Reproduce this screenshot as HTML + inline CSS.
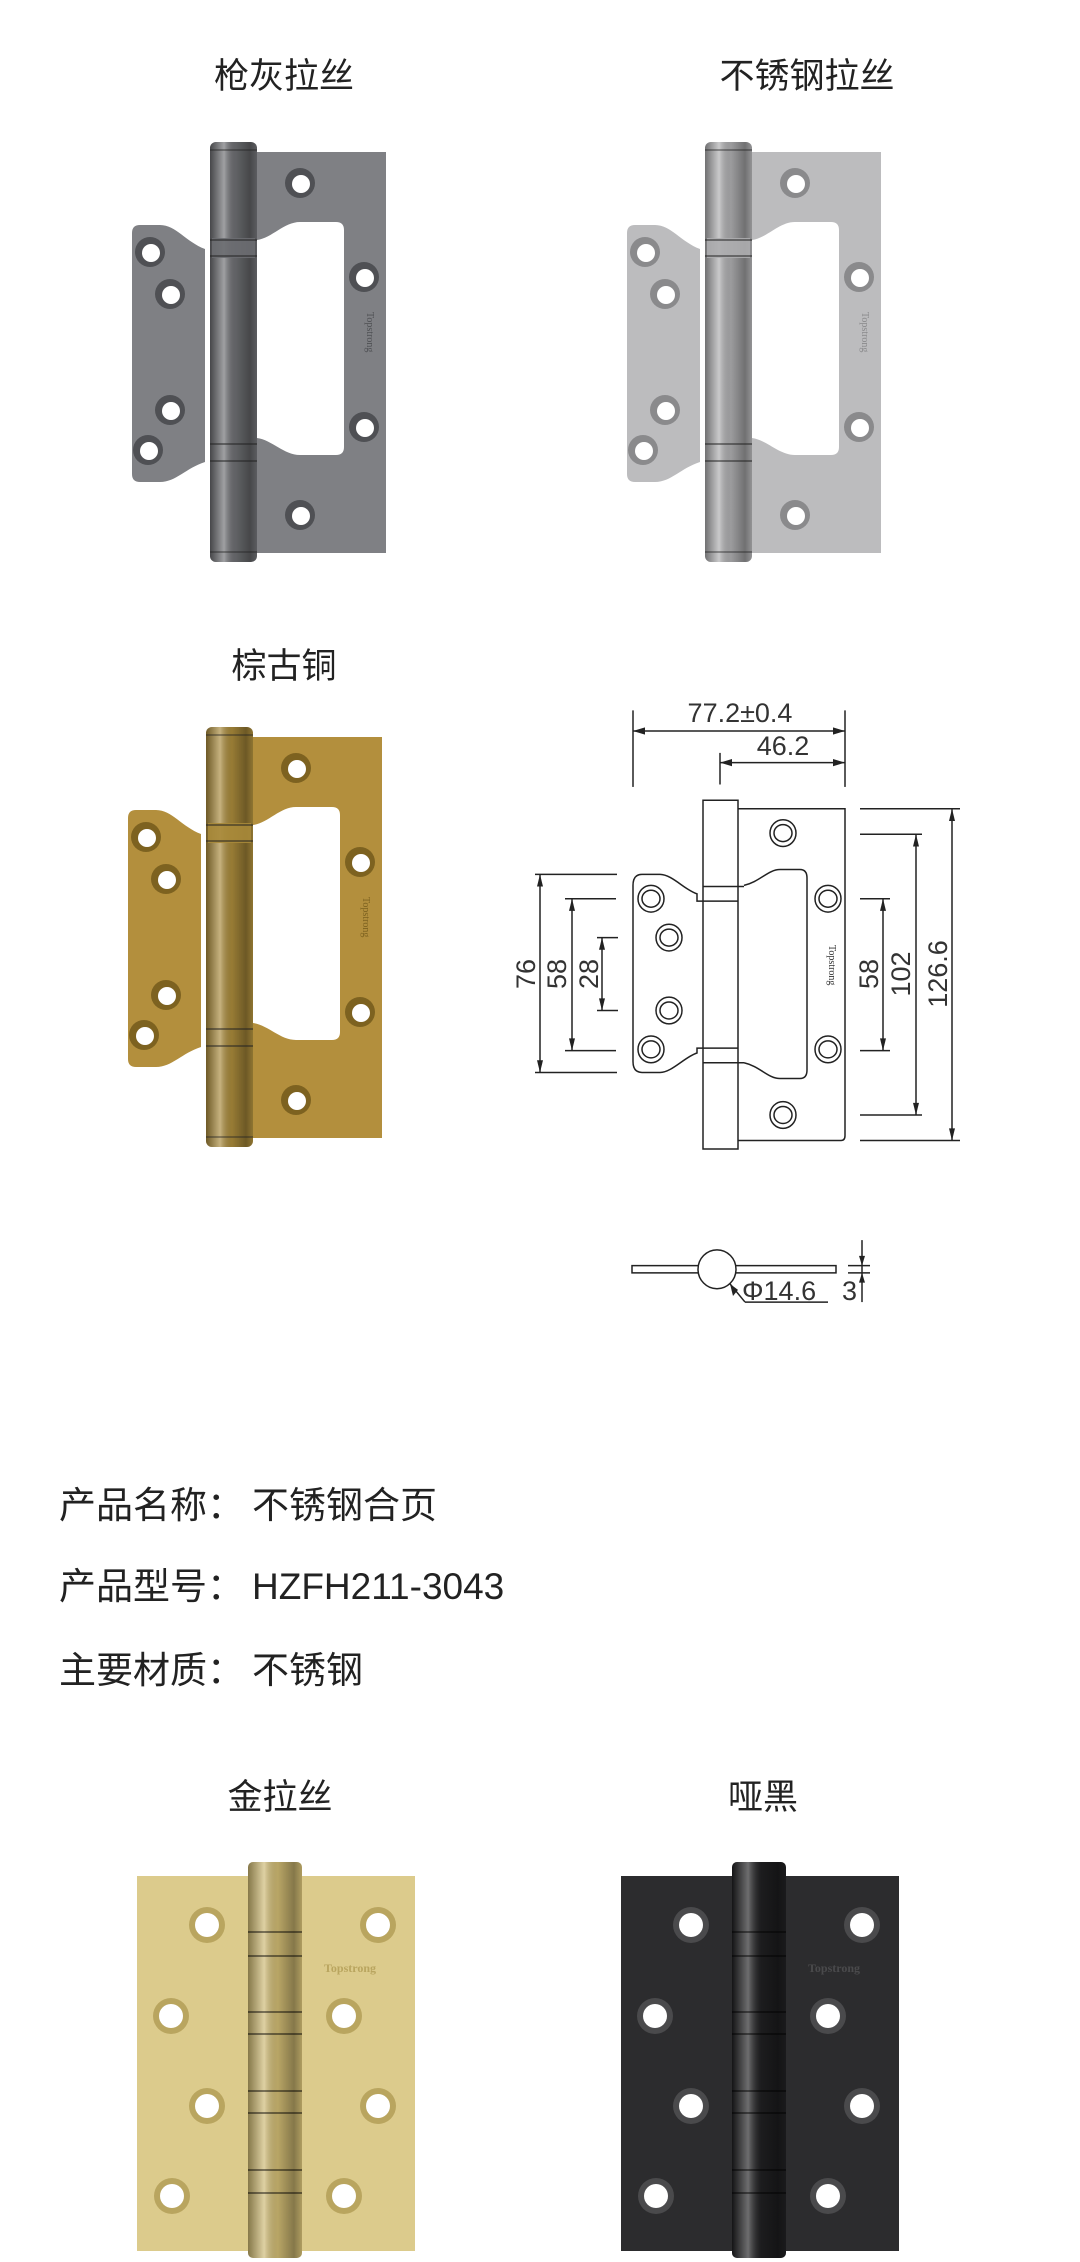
<!DOCTYPE html>
<html><head><meta charset="utf-8"><style>
html,body{margin:0;padding:0;background:#fff;}
svg{display:block;}
.t{font-family:"Liberation Sans","Noto Sans CJK SC",sans-serif;fill:#222;}
.d{font-family:"Liberation Sans",sans-serif;fill:#333;font-size:27px;}
.ln *{stroke:#222;stroke-width:1.5;fill:none;vector-effect:non-scaling-stroke;}
</style></head><body>
<svg width="1080" height="2262" viewBox="0 0 1080 2262" xmlns="http://www.w3.org/2000/svg">
<defs>
<linearGradient id="pinG" x1="0" x2="1" y1="0" y2="0">
<stop offset="0" stop-color="#000" stop-opacity="0.35"/>
<stop offset="0.3" stop-color="#fff" stop-opacity="0.35"/>
<stop offset="0.55" stop-color="#000" stop-opacity="0.1"/>
<stop offset="0.85" stop-color="#000" stop-opacity="0.35"/>
<stop offset="1" stop-color="#000" stop-opacity="0.15"/>
</linearGradient>
<g id="lift">
  <path d="M140,225 H160 C176,225 186,242 205,249 V462 C186,468 176,482 160,482 H140 Q132,482 132,474 V233 Q132,225 140,225 Z" style="fill:var(--leaf)"/>
  <path fill-rule="evenodd" d="M257,152 H386 V553 H257 Z M257,240 C272,238 284,222 300,222 H336 Q344,222 344,230 V447 Q344,455 336,455 H300 C284,455 272,440 257,438 Z" style="fill:var(--leaf)"/>
  <rect x="210" y="142" width="47" height="420" rx="6" style="fill:var(--pin)"/>
  <rect x="210" y="142" width="47" height="420" rx="6" fill="url(#pinG)"/>
  <rect x="212" y="238" width="43" height="20" style="fill:var(--pin)" opacity="0.9"/>
  <line x1="210" y1="240" x2="257" y2="240" stroke="#222" stroke-opacity="0.5" stroke-width="2"/>
  <line x1="210" y1="256" x2="257" y2="256" stroke="#222" stroke-opacity="0.5" stroke-width="2"/>
  <line x1="210" y1="444" x2="257" y2="444" stroke="#222" stroke-opacity="0.5" stroke-width="2"/>
  <line x1="210" y1="461" x2="257" y2="461" stroke="#222" stroke-opacity="0.5" stroke-width="2"/>
  <line x1="210" y1="150" x2="257" y2="150" stroke="#222" stroke-opacity="0.4" stroke-width="2"/>
  <line x1="210" y1="552" x2="257" y2="552" stroke="#222" stroke-opacity="0.4" stroke-width="2"/>
  <g style="fill:var(--rim)">
    <circle cx="300" cy="183" r="15"/><circle cx="364" cy="277" r="15"/><circle cx="364" cy="427" r="15"/><circle cx="300" cy="515" r="15"/>
    <circle cx="150" cy="252" r="15"/><circle cx="170" cy="294" r="15"/><circle cx="170" cy="410" r="15"/><circle cx="148" cy="450" r="15"/>
  </g>
  <g fill="#fff">
    <circle cx="301" cy="184" r="9"/><circle cx="365" cy="278" r="9"/><circle cx="365" cy="428" r="9"/><circle cx="301" cy="516" r="9"/>
    <circle cx="151" cy="253" r="9"/><circle cx="171" cy="295" r="9"/><circle cx="171" cy="411" r="9"/><circle cx="149" cy="451" r="9"/>
  </g>
  <text x="0" y="0" transform="translate(367,312) rotate(90)" font-family="Liberation Serif,serif" font-size="10" style="fill:var(--rim)">Topstrong</text>
</g>
<g id="butt">
  <rect x="137" y="1876" width="113" height="375" style="fill:var(--leaf)"/>
  <rect x="301" y="1876" width="114" height="375" style="fill:var(--leaf)"/>
  <rect x="248" y="1862" width="54" height="396" rx="5" style="fill:var(--pin)"/>
  <rect x="248" y="1862" width="54" height="396" rx="5" fill="url(#pinG)"/>
  <g stroke="#000" stroke-opacity="0.45" stroke-width="2">
    <line x1="248" y1="1932" x2="302" y2="1932"/><line x1="248" y1="1956" x2="302" y2="1956"/>
    <line x1="248" y1="2012" x2="302" y2="2012"/><line x1="248" y1="2034" x2="302" y2="2034"/>
    <line x1="248" y1="2091" x2="302" y2="2091"/><line x1="248" y1="2113" x2="302" y2="2113"/>
    <line x1="248" y1="2170" x2="302" y2="2170"/><line x1="248" y1="2193" x2="302" y2="2193"/>
  </g>
  <g style="fill:var(--rim)">
    <circle cx="207" cy="1925" r="18"/><circle cx="171" cy="2016" r="18"/><circle cx="207" cy="2106" r="18"/><circle cx="172" cy="2196" r="18"/>
    <circle cx="378" cy="1925" r="18"/><circle cx="344" cy="2016" r="18"/><circle cx="378" cy="2106" r="18"/><circle cx="344" cy="2196" r="18"/>
  </g>
  <g fill="#fff">
    <circle cx="207" cy="1925" r="12"/><circle cx="171" cy="2016" r="12"/><circle cx="207" cy="2106" r="12"/><circle cx="172" cy="2196" r="12"/>
    <circle cx="378" cy="1925" r="12"/><circle cx="344" cy="2016" r="12"/><circle cx="378" cy="2106" r="12"/><circle cx="344" cy="2196" r="12"/>
  </g>
  <text x="324" y="1972" font-family="Liberation Serif,serif" font-size="12" font-weight="bold" style="fill:var(--rim)">Topstrong</text>
</g>
</defs>

<text class="t" x="284" y="88" font-size="35" text-anchor="middle">枪灰拉丝</text>
<text class="t" x="807" y="88" font-size="35" text-anchor="middle">不锈钢拉丝</text>
<text class="t" x="284" y="678" font-size="35" text-anchor="middle">棕古铜</text>
<text class="t" x="280" y="1809" font-size="35" text-anchor="middle">金拉丝</text>
<text class="t" x="763" y="1809" font-size="35" text-anchor="middle">哑黑</text>

<use href="#lift" style="--leaf:#7f8084;--pin:#6c6d71;--rim:#4f5054"/>
<use href="#lift" transform="translate(495,0)" style="--leaf:#bcbcbe;--pin:#adadaf;--rim:#8a8a8c"/>
<use href="#lift" transform="translate(-4,585)" style="--leaf:#b38f3d;--pin:#a8893a;--rim:#7d6220"/>
<use href="#butt" style="--leaf:#dccb8c;--pin:#cdb871;--rim:#b9a55f"/>
<use href="#butt" transform="translate(484,0)" style="--leaf:#2c2c2e;--pin:#1f1f21;--rim:#4a4a4c"/>

<g transform="translate(0,680) scale(1,1.215) translate(0,-680)">
<g class="ln">
  <line x1="633" y1="722" x2="845" y2="722"/>
  <line x1="720" y1="748" x2="845" y2="748"/>
  <line x1="633" y1="705" x2="633" y2="768"/>
  <line x1="845" y1="705" x2="845" y2="768"/>
  <line x1="720" y1="740" x2="720" y2="766"/>
  <rect x="703" y="779" width="35" height="287"/>
  <path d="M738,786 H845 V1055 Q845,1059 841,1059 H738"/>
  <path d="M744,849 C760,846 768,836 780,836 H800 Q807,836 807,843 V1001 Q807,1008 800,1008 H780 C768,1008 760,998 744,995"/>
  <line x1="703" y1="850" x2="744" y2="850"/><line x1="703" y1="862" x2="738" y2="862"/>
  <line x1="703" y1="983" x2="738" y2="983"/><line x1="703" y1="995" x2="744" y2="995"/>
  <path d="M703,862 H697 V856 C685,853 672,840 660,840 H642 Q633,840 633,849 V994 Q633,1003 642,1003 H660 C672,1003 685,990 697,987 V983 H703"/>
  <ellipse cx="783" cy="806" rx="13" ry="11"/><ellipse cx="783" cy="806" rx="9" ry="7"/>
  <ellipse cx="828" cy="860" rx="13" ry="11"/><ellipse cx="828" cy="860" rx="9" ry="7"/>
  <ellipse cx="828" cy="984" rx="13" ry="11"/><ellipse cx="828" cy="984" rx="9" ry="7"/>
  <ellipse cx="783" cy="1038" rx="13" ry="11"/><ellipse cx="783" cy="1038" rx="9" ry="7"/>
  <ellipse cx="651" cy="860" rx="13" ry="11"/><ellipse cx="651" cy="860" rx="9" ry="7"/>
  <ellipse cx="669" cy="892" rx="13" ry="11"/><ellipse cx="669" cy="892" rx="9" ry="7"/>
  <ellipse cx="669" cy="952" rx="13" ry="11"/><ellipse cx="669" cy="952" rx="9" ry="7"/>
  <ellipse cx="651" cy="984" rx="13" ry="11"/><ellipse cx="651" cy="984" rx="9" ry="7"/>
  <line x1="860" y1="786" x2="960" y2="786"/><line x1="860" y1="1059" x2="960" y2="1059"/>
  <line x1="860" y1="807" x2="922" y2="807"/><line x1="860" y1="1038" x2="922" y2="1038"/>
  <line x1="860" y1="860" x2="890" y2="860"/><line x1="860" y1="985" x2="890" y2="985"/>
  <line x1="952" y1="786" x2="952" y2="1059"/>
  <line x1="916" y1="807" x2="916" y2="1038"/>
  <line x1="883" y1="860" x2="883" y2="985"/>
  <line x1="535" y1="840" x2="617" y2="840"/><line x1="535" y1="1003" x2="617" y2="1003"/>
  <line x1="565" y1="860" x2="616" y2="860"/><line x1="565" y1="985" x2="616" y2="985"/>
  <line x1="597" y1="892" x2="618" y2="892"/><line x1="597" y1="952" x2="618" y2="952"/>
  <line x1="540" y1="840" x2="540" y2="1003"/>
  <line x1="572" y1="860" x2="572" y2="985"/>
  <line x1="602" y1="892" x2="602" y2="952"/>
  <rect x="632" y="1162" width="204" height="6"/>
  <line x1="730" y1="1177" x2="745" y2="1192"/>
  <line x1="745" y1="1192" x2="828" y2="1192"/>
  <line x1="862" y1="1141" x2="862" y2="1192"/>
  <line x1="848" y1="1162" x2="870" y2="1162"/>
  <line x1="848" y1="1168" x2="870" y2="1168"/>
</g>
<ellipse cx="717" cy="1165" rx="19" ry="16" fill="#fff" stroke="#222" stroke-width="1.5" vector-effect="non-scaling-stroke"/>
<g fill="#222">
  <path d="M633,722 l12,-3 v6z"/><path d="M845,722 l-12,-3 v6z"/>
  <path d="M720,748 l12,-3 v6z"/><path d="M845,748 l-12,-3 v6z"/>
  <path d="M952,786 l-3,10 h6z"/><path d="M952,1059 l-3,-10 h6z"/>
  <path d="M916,807 l-3,10 h6z"/><path d="M916,1038 l-3,-10 h6z"/>
  <path d="M883,860 l-3,10 h6z"/><path d="M883,985 l-3,-10 h6z"/>
  <path d="M540,840 l-3,10 h6z"/><path d="M540,1003 l-3,-10 h6z"/>
  <path d="M572,860 l-3,10 h6z"/><path d="M572,985 l-3,-10 h6z"/>
  <path d="M602,892 l-3,10 h6z"/><path d="M602,952 l-3,-10 h6z"/>
  <path d="M862,1162 l-3,-8 h6z"/><path d="M862,1168 l-3,8 h6z"/>
  <path d="M730,1177 l3,10 l5,-5z"/>
</g>
</g>
<text class="d" x="740" y="722" text-anchor="middle">77.2±0.4</text>
<text class="d" x="783" y="755" text-anchor="middle">46.2</text>
<text class="d" transform="translate(535,974) rotate(-90)" text-anchor="middle">76</text>
<text class="d" transform="translate(566,974) rotate(-90)" text-anchor="middle">58</text>
<text class="d" transform="translate(598,974) rotate(-90)" text-anchor="middle">28</text>
<text class="d" transform="translate(878,974) rotate(-90)" text-anchor="middle">58</text>
<text class="d" transform="translate(910,974) rotate(-90)" text-anchor="middle">102</text>
<text class="d" transform="translate(947,974) rotate(-90)" text-anchor="middle">126.6</text>
<text class="d" x="742" y="1300">Φ14.6</text>
<text class="d" x="842" y="1300">3</text>
<text x="0" y="0" transform="translate(829,945) rotate(90)" font-family="Liberation Serif,serif" font-size="10" fill="#333">Topstrong</text>

<text class="t" x="59" y="1518" font-size="37">产品名称：</text>
<text class="t" x="252" y="1518" font-size="37">不锈钢合页</text>
<text class="t" x="59" y="1599" font-size="37">产品型号：</text>
<text class="t" x="252" y="1599" font-size="37">HZFH211-3043</text>
<text class="t" x="59" y="1683" font-size="37">主要材质：</text>
<text class="t" x="252" y="1683" font-size="37">不锈钢</text>
</svg>
</body></html>
